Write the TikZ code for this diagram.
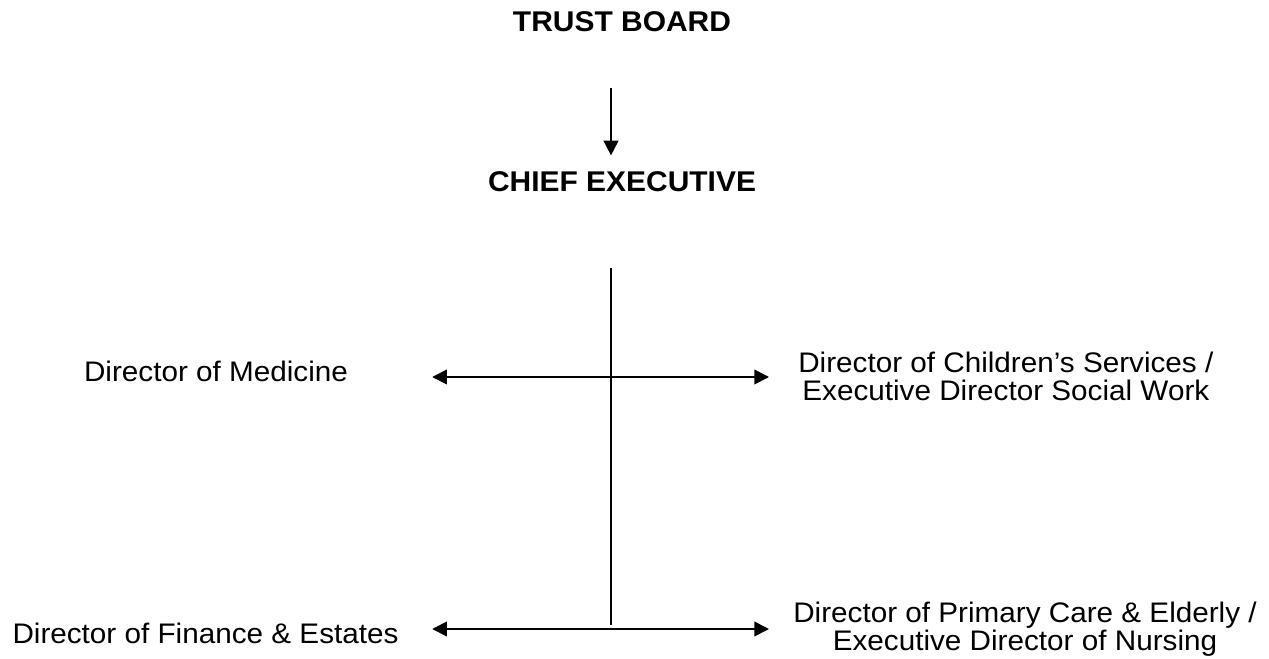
\documentclass[tikz,border=0pt]{standalone}
\usepackage{fontspec}
\setmainfont{Liberation Sans}[FakeStretch=1.05]
\usetikzlibrary{arrows.meta}

\begin{document}
\begin{tikzpicture}[x=0.75pt,y=0.75pt]
\tikzstyle{every node}+=[inner sep=0pt, font=\fontsize{21.2pt}{21.2pt}\selectfont]
\tikzstyle{title}=[font=\fontsize{21.4pt}{21.2pt}\selectfont\bfseries, anchor=base]
\tikzstyle{post}=[anchor=base]
\tikzstyle{postwide}=[anchor=north west, align=center]
\tikzstyle{link}=[black, line width=1.3pt]
\tikzstyle{tip}=[link, -{Triangle[length=11pt,width=11pt]}]
\useasboundingbox (0,0) rectangle (1269,-659);
\node [title] (board) at (622,-32) {TRUST BOARD};
\node [title] (chief) at (622,-192) {CHIEF EXECUTIVE};
\node [post] (medicine) at (216,-381) {Director of Medicine};
\node [post] (finance) at (205.5,-643) {Director of Finance \& Estates};
\node [postwide] (children) at (798,-351.3) {Director of Children’s Services /\\Executive Director Social Work};
\node [postwide] (primary) at (793,-601.3) {Director of Primary Care \& Elderly /\\Executive Director of Nursing};
\coordinate (upper) at (611,-377);
\coordinate (lower) at (611,-629);
\draw [tip, shorten <=41.25pt, shorten >=12.3pt] (board.south -| upper) -- (chief.north -| upper);
\draw [link, shorten <=56.25pt, shorten >=3pt] (chief.south -| upper) -- (lower);
\draw [tip, shorten >=63pt] (upper) -- (medicine.east |- upper);
\draw [tip, shorten >=21.75pt] (upper) -- (children.west |- upper);
\draw [tip, shorten >=25.1pt] (lower) -- (finance.east |- lower);
\draw [tip, shorten >=18pt] (lower) -- (primary.west |- lower);
\end{tikzpicture}
\end{document}
